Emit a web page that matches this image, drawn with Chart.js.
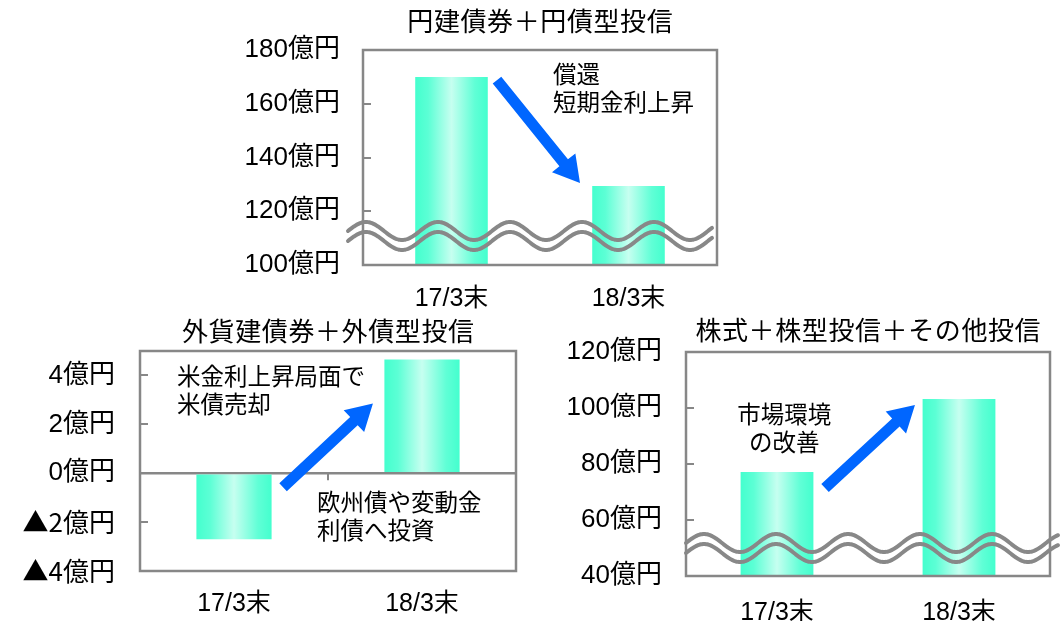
<!DOCTYPE html>
<html>
<head>
<meta charset="utf-8">
<script src="https://cdn.jsdelivr.net/npm/chart.js@4.4.1/dist/chart.umd.min.js"></script>
<style>
  html, body { margin: 0; padding: 0; background: #ffffff; }
  body { width: 1062px; height: 621px; position: relative; overflow: hidden; }
  canvas { position: absolute; }
</style>
</head>
<body>
<canvas id="yenPanel" width="500" height="320" style="left:230px;top:0px"></canvas>
<canvas id="foreignPanel" width="530" height="316" style="left:0px;top:305px"></canvas>
<canvas id="equityPanel" width="532" height="316" style="left:530px;top:305px"></canvas>
<script>
// ---- data (億円) ----
const categories = ['17/3末', '18/3末'];

const yenBondValues = [170, 129.4];       // 円建債券＋円債型投信
const foreignBondValues = [-2.7, 4.65];   // 外貨建債券＋外債型投信
const equityValues = [77.1, 103.2];       // 株式＋株型投信＋その他投信

const yenTicks = [100, 120, 140, 160, 180];
const foreignTicks = [-4, -2, 0, 2, 4];
const equityTicks = [40, 60, 80, 100, 120];

const panelTitles = ['円建債券＋円債型投信', '外貨建債券＋外債型投信', '株式＋株型投信＋その他投信'];

// ---- styling ----
const FONT_FAMILY = "'Liberation Sans', 'Noto Sans CJK JP', sans-serif";
const CJK_FAMILY = "'Noto Sans CJK JP', sans-serif";
const FRAME_COLOR = '#878787';
const ARROW_COLOR = '#0066ff';

function okuLabel(v) {
  return (v < 0 ? '▲' + (-v) : String(v)) + '億円';
}

// horizontal cylinder-like shading across each bar
function barFill(context) {
  const chart = context.chart;
  const xs = chart.scales && chart.scales.x;
  if (!xs || context.dataIndex === undefined || !xs.width) return '#4dffd2';
  const cx = xs.getPixelForValue(context.dataIndex);
  const w = xs.width / categories.length * context.dataset.barPercentage;
  const g = chart.ctx.createLinearGradient(cx - w / 2, 0, cx + w / 2, 0);
  g.addColorStop(0.0, '#44ffce');
  g.addColorStop(0.18, '#5cffd5');
  g.addColorStop(0.5, '#c6fff0');
  g.addColorStop(0.82, '#60ffd6');
  g.addColorStop(1.0, '#44ffce');
  return g;
}

function sineLine(ctx, x0, x1, yc, amp, period) {
  ctx.beginPath();
  for (let x = x0; x <= x1; x += 1) {
    const y = yc - amp * Math.sin(2 * Math.PI * (x - x0) / period);
    if (x === x0) ctx.moveTo(x, y); else ctx.lineTo(x, y);
  }
  ctx.stroke();
}

function drawArrow(ctx, tail, tip) {
  const dx = tip[0] - tail[0], dy = tip[1] - tail[1];
  const len = Math.hypot(dx, dy);
  const ux = dx / len, uy = dy / len;
  const nx = -uy, ny = ux;
  const shaft = 11, headLen = 26, headW = 30;
  const neck = [tip[0] - ux * headLen, tip[1] - uy * headLen];
  ctx.beginPath();
  ctx.moveTo(tail[0] + nx * shaft / 2, tail[1] + ny * shaft / 2);
  ctx.lineTo(neck[0] + nx * shaft / 2, neck[1] + ny * shaft / 2);
  ctx.lineTo(neck[0] + nx * headW / 2, neck[1] + ny * headW / 2);
  ctx.lineTo(tip[0], tip[1]);
  ctx.lineTo(neck[0] - nx * headW / 2, neck[1] - ny * headW / 2);
  ctx.lineTo(neck[0] - nx * shaft / 2, neck[1] - ny * shaft / 2);
  ctx.lineTo(tail[0] - nx * shaft / 2, tail[1] - ny * shaft / 2);
  ctx.closePath();
  ctx.fillStyle = ARROW_COLOR;
  ctx.fill();
}

// category position helper: index may be fractional
function catPixel(xs, idx) {
  const w = xs.width / categories.length;
  return xs.left + w * (idx + 0.5);
}

const decorPlugin = {
  id: 'panelDecor',
  afterDatasetsDraw(chart, args, o) {
    const ctx = chart.ctx, a = chart.chartArea, ys = chart.scales.y;
    if (o.wave) {
      const yc = ys.getPixelForValue(o.wave.value);
      ctx.save();
      ctx.strokeStyle = '#888888';
      ctx.lineWidth = 4;
      ctx.lineCap = 'round';
      sineLine(ctx, a.left + o.wave.startOff, a.right + o.wave.endOff, yc - 5, 9, 72);
      sineLine(ctx, a.left + o.wave.startOff, a.right + o.wave.endOff, yc + 5, 9, 72);
      ctx.restore();
    }
  },
  afterDraw(chart, args, o) {
    const ctx = chart.ctx, a = chart.chartArea, xs = chart.scales.x, ys = chart.scales.y;
    ctx.save();
    // frame
    ctx.strokeStyle = FRAME_COLOR;
    ctx.lineWidth = 2.5;
    ctx.strokeRect(a.left, a.top, a.right - a.left, a.bottom - a.top);
    // inward tick marks on the value axis
    ctx.lineWidth = 2;
    ys.ticks.forEach(t => {
      if (t.value === ys.min || t.value === ys.max) return;
      const y = Math.round(ys.getPixelForValue(t.value));
      ctx.beginPath();
      ctx.moveTo(a.left, y);
      ctx.lineTo(a.left + 8, y);
      ctx.stroke();
    });
    if (o.zeroTick) {
      const y0 = ys.getPixelForValue(0);
      const xm = Math.round(catPixel(xs, 0.5));
      ctx.beginPath();
      ctx.moveTo(xm, y0);
      ctx.lineTo(xm, y0 + 7);
      ctx.stroke();
    }
    // arrow
    if (o.arrow) {
      const tail = [catPixel(xs, o.arrow.from[0]), ys.getPixelForValue(o.arrow.from[1])];
      const tip = [catPixel(xs, o.arrow.to[0]), ys.getPixelForValue(o.arrow.to[1])];
      drawArrow(ctx, tail, tip);
    }
    // notes
    ctx.fillStyle = '#000000';
    ctx.textBaseline = 'middle';
    ctx.font = '23.5px ' + FONT_FAMILY;
    (o.notes || []).forEach(n => {
      const x = catPixel(xs, n.at[0]);
      const y = ys.getPixelForValue(n.at[1]);
      ctx.textAlign = n.align;
      n.lines.forEach((line, k) => ctx.fillText(line, x, y + k * 28));
    });
    // title
    ctx.font = '26px ' + FONT_FAMILY;
    ctx.letterSpacing = '0.6px';
    ctx.textAlign = 'center';
    ctx.fillText(o.title, (a.left + a.right) / 2 + 0.3, a.top - o.titleGap);
    ctx.restore();
  }
};

function makePanel(id, p) {
  return new Chart(document.getElementById(id), {
    type: 'bar',
    data: {
      labels: categories,
      datasets: [{
        data: p.values,
        backgroundColor: barFill,
        borderWidth: 0,
        categoryPercentage: 1,
        barPercentage: p.barPct
      }]
    },
    options: {
      responsive: false,
      animation: false,
      devicePixelRatio: 1,
      layout: { padding: { top: p.padTop, right: p.padRight, left: 0, bottom: 0 } },
      plugins: {
        legend: { display: false },
        tooltip: { enabled: false },
        title: { display: false },
        panelDecor: p.decor
      },
      scales: {
        x: {
          grid: { display: false, drawTicks: false },
          border: { display: false },
          ticks: { color: '#000', font: { family: FONT_FAMILY, size: 25 }, padding: p.xPad, maxRotation: 0 },
          afterFit: s => { s.height = p.xHeight; }
        },
        y: {
          min: p.min,
          max: p.max,
          grid: p.zeroLine
            ? { drawTicks: false, lineWidth: 2.5, color: c => (c.tick && c.tick.value === 0 ? FRAME_COLOR : 'rgba(0,0,0,0)') }
            : { display: false, drawTicks: false },
          border: { display: false },
          ticks: {
            color: '#000',
            // the ▲ sign needs the full-width CJK glyph
            font: c => ({ family: c.tick && c.tick.value < 0 ? CJK_FAMILY : FONT_FAMILY, size: 26 }),
            padding: p.yPad,
            callback: v => okuLabel(v)
          },
          afterBuildTicks: s => { s.ticks = p.ticks.map(v => ({ value: v })); },
          afterFit: s => { s.width = p.yWidth; }
        }
      }
    },
    plugins: [decorPlugin]
  });
}

makePanel('yenPanel', {
  values: yenBondValues, ticks: yenTicks, min: 100, max: 180,
  barPct: 0.41, padTop: 50, padRight: 13, yWidth: 133, xHeight: 55, xPad: 19, yPad: 23,
  decor: {
    title: panelTitles[0], titleGap: 26,
    wave: { value: 110.8, startOff: -15, endOff: -5 },
    arrow: { from: [0.257, 168.8], to: [0.726, 130.5] },
    notes: [{ at: [0.573, 170.3], align: 'left', lines: ['償還', '短期金利上昇'] }]
  }
});

makePanel('foreignPanel', {
  values: foreignBondValues, ticks: foreignTicks, min: -4, max: 5, zeroLine: true,
  barPct: 0.40, padTop: 46, padRight: 14, yWidth: 140, xHeight: 50, xPad: 18, yPad: 25,
  decor: {
    title: panelTitles[1], titleGap: 17, zeroTick: true,
    arrow: { from: [0.261, -0.571], to: [0.739, 2.857] },
    notes: [
      { at: [-0.303, 3.88], align: 'left', lines: ['米金利上昇局面で', '米債売却'] },
      { at: [0.441, -1.3], align: 'left', lines: ['欧州債や変動金', '利債へ投資'] }
    ]
  }
});

makePanel('equityPanel', {
  values: equityValues, ticks: equityTicks, min: 40, max: 120,
  barPct: 0.40, padTop: 47, padRight: 12, yWidth: 156, xHeight: 45, xPad: 22, yPad: 24,
  decor: {
    title: panelTitles[2], titleGap: 19,
    wave: { value: 50, startOff: 0, endOff: 8 },
    arrow: { from: [0.264, 71.4], to: [0.758, 101.1] },
    notes: [{ at: [0.04, 97.1], align: 'center', lines: ['市場環境', 'の改善'] }]
  }
});
</script>
</body>
</html>
